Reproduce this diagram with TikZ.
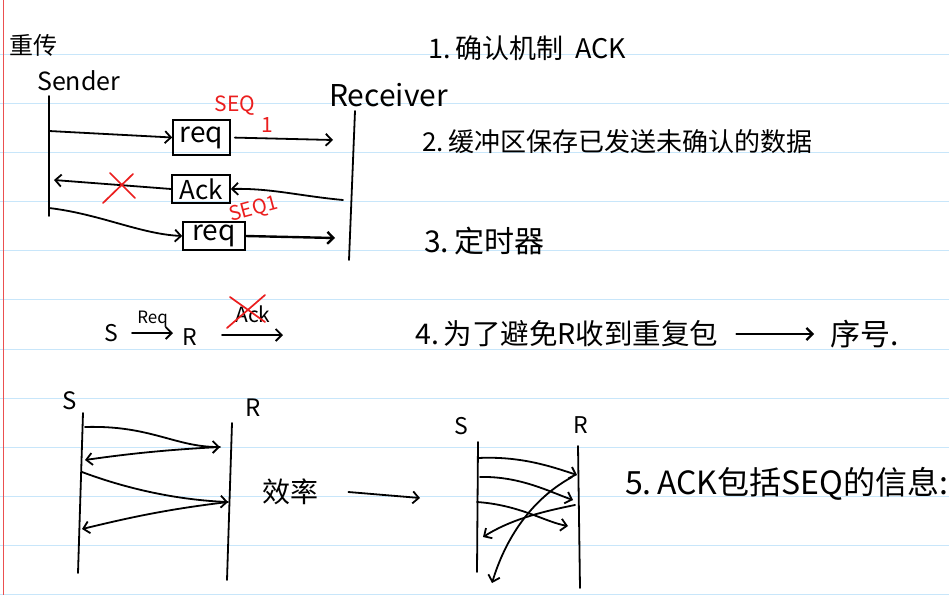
\documentclass[tikz,border=0pt]{standalone}
\usepackage{fontspec}
\setmainfont{Noto Sans CJK SC}
\usetikzlibrary{arrows.meta}
\definecolor{rulecol}{RGB}{200,230,250}
\definecolor{margincol}{RGB}{235,80,80}
\definecolor{inkred}{RGB}{235,30,30}
\newcommand\fsz[1]{\fontsize{#1}{#1}\selectfont}
\tikzset{
  ink/.style={line width=1.8pt, black, line cap=round, line join=round},
  arr/.style={ink, -{Straight Barb[length=6pt,width=12pt]}},
  pkt/.style={draw, line width=1.6pt, inner sep=0pt},
  txt/.style={inner sep=0pt, anchor=west},
  redtxt/.style={text=inkred, inner sep=0pt},
  redx/.style={draw=inkred, line width=1.7pt, line cap=round},
}
\begin{document}
\begin{tikzpicture}[x=1pt,y=-1pt]
\useasboundingbox (0,0) rectangle (949,595);
\fill[white] (0,0) rectangle (949,595);
\foreach \k in {0,...,11} \draw[rulecol, line width=1pt] (0,{54+49.17*\k}) -- (949,{54+49.17*\k});
\draw[margincol, line width=1pt] (3,0) -- (3,595);

% ---------- top: retransmission ----------
\node[txt] (title) at (9,45) {\fsz{24}重传};
\node[txt] (sender) at (37,81) {\fsz{25}Sender};
\node[txt] (receiver) at (329,95) {\fsz{30}Receiver};
\coordinate (sT) at (49,96); \coordinate (sB) at (49,216);
\coordinate (rT) at (355,111); \coordinate (rB) at (349,260);
\draw[ink] (sT) -- (sB);
\draw[ink] (rT) -- (rB);

\node[pkt, minimum width=57, minimum height=35] (req1) at (201.5,137.5) {\fsz{28}req};
\coordinate (s1) at (49,131);
\coordinate (r1) at (333,140);
\draw[arr] (s1) -- (req1.west);
\draw[arr, shorten <=4pt] (req1.east) -- (r1);
\node[redtxt] (seqa) at (235,106) {\fsz{21}SEQ};
\node[redtxt] (seqb) at (267,125) {\fsz{21}1};

\node[pkt, minimum width=58, minimum height=28] (ack) at (201,189) {\fsz{26}Ack};
\coordinate (r2) at (343,200);
\coordinate (s2) at (54,180);
\draw[arr] (r2) .. controls (300,196) and (270,188) .. (ack.east);
\draw[arr] (ack.west) -- (s2);
\draw[redx] (110,173) -- (135,198) (133,174) -- (103,203);

\node[pkt, minimum width=62, minimum height=28] (req2) at (214,236) {\fsz{28}req};
\coordinate (s3) at (49,208);
\coordinate (r3) at (335,238);
\draw[arr] (s3) .. controls (100,214) and (140,234) .. (req2.west);
\draw[arr, line width=2.4pt] (req2.east) -- (r3);
\node[redtxt, rotate=15] (seqc) at (254,210) {\fsz{20}SEQ1};

% ---------- numbered notes ----------
\node[txt] (n1) at (428,48) {\fsz{27}1.\,确认机制\ \ ACK};
\node[txt] (n2) at (422,142) {\fsz{26}2.\,缓冲区保存已发送未确认的数据};
\node[txt] (n3) at (424,241) {\fsz{30}3.\,定时器};

% ---------- row 4 ----------
\node[txt] (S4) at (104,333) {\fsz{23}S};
\node[txt] (R4) at (182,337) {\fsz{23}R};
\coordinate (q4) at (173,333);
\draw[arr] ([xshift=14pt]S4.east) -- (q4) node[midway, above=5pt, inner sep=0pt] (reql) {\fsz{17}Req};
\coordinate (a4) at (283,335);
\coordinate (a0) at (222,335);
\draw[arr] (a0) -- (a4);
\node[inner sep=0pt] (ackl) at (253,314) {\fsz{21}Ack};
\draw[redx] (230,297) -- (265,322) (265,295) -- (227,328);

\node[txt] (n4) at (415,334) {\fsz{28.5}4.\,为了避免R收到重复包};
\node[txt] (seqno) at (830,334) {\fsz{30}序号.};
\draw[arr, line width=2.2pt, shorten <=18pt, shorten >=16pt] (n4.east) -- (seqno.west);

% ---------- bottom left ----------
\node (Sb) at (70,401) {\fsz{24}S};
\node (Rb) at (253,408) {\fsz{24}R};
\coordinate (sbT) at (83,413); \coordinate (sbB) at (78,573);
\coordinate (rbT) at (232,423); \coordinate (rbB) at (227,580);
\draw[ink] (sbT) -- (sbB);
\draw[ink] (rbT) -- (rbB);
\coordinate (b1) at (85,427); \coordinate (b2) at (220,447);
\coordinate (b3) at (85,460); \coordinate (b4) at (82,472);
\coordinate (b5) at (228,502); \coordinate (b6) at (82,529);
\draw[arr] (b1) .. controls (150,425) and (175,447) .. (b2);
\draw[arr] (b2) .. controls (160,450) and (120,455) .. (b3);
\draw[arr] (b4) .. controls (130,490) and (180,500) .. (b5);
\draw[arr] (b5) .. controls (160,510) and (120,520) .. (b6);

\node[txt] (eff) at (262,492) {\fsz{28}效率};
\coordinate (effend) at (420,498);
\draw[arr] ([xshift=30pt]eff.east) -- (effend);

% ---------- bottom right ----------
\node (Sc) at (461,426) {\fsz{23}S};
\node (Rc) at (581,425) {\fsz{23}R};
\coordinate (scT) at (478,442); \coordinate (scB) at (477,572);
\coordinate (rcT) at (578,446); \coordinate (rcB) at (580,588);
\draw[ink] (scT) -- (scB);
\draw[ink] (rcT) -- (rcB);
\coordinate (c1) at (478,458); \coordinate (c2) at (577,475);
\coordinate (c3) at (480,477); \coordinate (c4) at (573,500);
\coordinate (c5) at (477,502); \coordinate (c6) at (568,526);
\coordinate (c7) at (575,505); \coordinate (c8) at (483,537);
\coordinate (c9) at (572,477); \coordinate (c10) at (492,583);
\draw[arr] (c1) .. controls (520,456) and (550,466) .. (c2);
\draw[arr] (c3) .. controls (520,476) and (550,492) .. (c4);
\draw[arr] (c5) .. controls (520,505) and (545,522) .. (c6);
\draw[arr] (c7) .. controls (540,512) and (510,520) .. (c8);
\draw[arr] (c9) .. controls (530,500) and (505,540) .. (c10);

\node[txt] (n5) at (625,484) {\fsz{32}5.\,ACK包括SEQ的信息:};
\end{tikzpicture}
\end{document}
